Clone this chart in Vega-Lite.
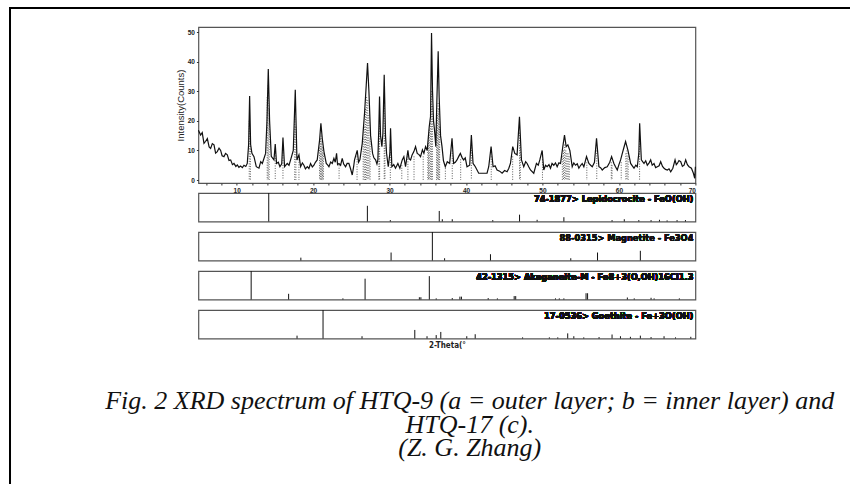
{
  "$schema": "https://vega.github.io/schema/vega-lite/v6.json",
  "background": "white",
  "padding": {"left": 6, "top": 4, "right": 0, "bottom": 0},
  "bounds": "flush",
  "spacing": 0,
  "config": {
    "view": {"stroke": "#555", "strokeWidth": 1.2},
    "font": "Liberation Sans"
  },
  "datasets": {
    "spectrum": [
      {"theta": 5.0, "counts": 16.8}, {"theta": 5.29, "counts": 15.2}, {"theta": 5.5, "counts": 16.0}, {"theta": 5.73, "counts": 12.4}, {"theta": 5.95, "counts": 13.1},
      {"theta": 6.17, "counts": 14.0}, {"theta": 6.4, "counts": 11.2}, {"theta": 6.6, "counts": 10.7}, {"theta": 6.82, "counts": 12.3}, {"theta": 7.04, "counts": 11.9},
      {"theta": 7.25, "counts": 9.1}, {"theta": 7.47, "counts": 9.6}, {"theta": 7.7, "counts": 10.8}, {"theta": 7.91, "counts": 10.0}, {"theta": 8.1, "counts": 8.2},
      {"theta": 8.34, "counts": 7.9}, {"theta": 8.55, "counts": 9.0}, {"theta": 8.78, "counts": 8.5}, {"theta": 9.0, "counts": 6.6}, {"theta": 9.22, "counts": 6.8},
      {"theta": 9.45, "counts": 5.2}, {"theta": 9.65, "counts": 5.6}, {"theta": 9.9, "counts": 4.6}, {"theta": 10.09, "counts": 5.1}, {"theta": 10.3, "counts": 4.3},
      {"theta": 10.52, "counts": 4.7}, {"theta": 10.75, "counts": 4.2}, {"theta": 10.96, "counts": 5.0}, {"theta": 11.2, "counts": 4.6}, {"theta": 11.39, "counts": 5.6},
      {"theta": 11.57, "counts": 12.0}, {"theta": 11.7, "counts": 28.4}, {"theta": 11.83, "counts": 12.0}, {"theta": 12.0, "counts": 9.0}, {"theta": 12.27, "counts": 7.9},
      {"theta": 12.57, "counts": 4.5}, {"theta": 12.92, "counts": 4.0}, {"theta": 13.15, "counts": 6.2}, {"theta": 13.36, "counts": 5.6}, {"theta": 13.79, "counts": 9.0},
      {"theta": 13.97, "counts": 20.0}, {"theta": 14.14, "counts": 37.5}, {"theta": 14.31, "counts": 20.0}, {"theta": 14.53, "counts": 8.0}, {"theta": 14.88, "counts": 6.8},
      {"theta": 15.05, "counts": 12.2}, {"theta": 15.22, "counts": 5.6}, {"theta": 15.45, "counts": 6.0}, {"theta": 15.66, "counts": 4.5}, {"theta": 15.9, "counts": 5.5},
      {"theta": 16.06, "counts": 14.4}, {"theta": 16.27, "counts": 4.5}, {"theta": 16.62, "counts": 5.6}, {"theta": 16.85, "counts": 5.0}, {"theta": 17.06, "counts": 6.8},
      {"theta": 17.41, "counts": 10.0}, {"theta": 17.67, "counts": 30.5}, {"theta": 17.89, "counts": 6.8}, {"theta": 18.15, "counts": 8.5}, {"theta": 18.37, "counts": 4.5},
      {"theta": 18.6, "counts": 5.8}, {"theta": 18.8, "counts": 5.0}, {"theta": 19.0, "counts": 3.8}, {"theta": 19.24, "counts": 4.5}, {"theta": 19.45, "counts": 3.9},
      {"theta": 19.67, "counts": 5.6}, {"theta": 19.9, "counts": 4.4}, {"theta": 20.11, "counts": 5.0}, {"theta": 20.3, "counts": 6.0}, {"theta": 20.54, "counts": 6.8},
      {"theta": 20.85, "counts": 13.5}, {"theta": 21.02, "counts": 19.2}, {"theta": 21.2, "counts": 14.0}, {"theta": 21.42, "counts": 9.6}, {"theta": 21.72, "counts": 5.6},
      {"theta": 21.9, "counts": 5.1}, {"theta": 22.07, "counts": 4.5}, {"theta": 22.3, "counts": 6.1}, {"theta": 22.51, "counts": 5.6}, {"theta": 22.72, "counts": 7.3},
      {"theta": 22.9, "counts": 6.0}, {"theta": 23.07, "counts": 9.0}, {"theta": 23.2, "counts": 5.2}, {"theta": 23.38, "counts": 5.6}, {"theta": 23.6, "counts": 5.0},
      {"theta": 23.81, "counts": 7.3}, {"theta": 24.0, "counts": 5.4}, {"theta": 24.25, "counts": 4.5}, {"theta": 24.45, "counts": 5.6}, {"theta": 24.68, "counts": 5.6},
      {"theta": 24.9, "counts": 3.8}, {"theta": 25.12, "counts": 1.7}, {"theta": 25.3, "counts": 4.5}, {"theta": 25.42, "counts": 6.8}, {"theta": 25.77, "counts": 10.0},
      {"theta": 25.95, "counts": 6.0}, {"theta": 26.12, "counts": 6.8}, {"theta": 26.43, "counts": 12.4}, {"theta": 26.73, "counts": 22.6}, {"theta": 26.95, "counts": 32.0},
      {"theta": 27.12, "counts": 39.5}, {"theta": 27.3, "counts": 30.0}, {"theta": 27.52, "counts": 15.0}, {"theta": 27.78, "counts": 9.0}, {"theta": 27.95, "counts": 7.5},
      {"theta": 28.17, "counts": 6.8}, {"theta": 28.35, "counts": 5.4}, {"theta": 28.47, "counts": 6.8}, {"theta": 28.6, "counts": 18.0}, {"theta": 28.69, "counts": 28.2},
      {"theta": 28.82, "counts": 15.0}, {"theta": 29.0, "counts": 11.3}, {"theta": 29.13, "counts": 15.8}, {"theta": 29.3, "counts": 35.6}, {"theta": 29.47, "counts": 15.0},
      {"theta": 29.61, "counts": 9.0}, {"theta": 29.83, "counts": 4.5}, {"theta": 30.04, "counts": 9.0}, {"theta": 30.13, "counts": 17.5}, {"theta": 30.3, "counts": 4.5},
      {"theta": 30.55, "counts": 5.2}, {"theta": 30.78, "counts": 4.0}, {"theta": 31.09, "counts": 5.6}, {"theta": 31.35, "counts": 4.0}, {"theta": 31.66, "counts": 6.8},
      {"theta": 31.87, "counts": 7.9}, {"theta": 32.09, "counts": 4.5}, {"theta": 32.4, "counts": 10.0}, {"theta": 32.55, "counts": 7.2}, {"theta": 32.75, "counts": 6.8},
      {"theta": 32.95, "counts": 8.5}, {"theta": 33.18, "counts": 9.6}, {"theta": 33.4, "counts": 11.3}, {"theta": 33.62, "counts": 9.0}, {"theta": 33.85, "counts": 8.6},
      {"theta": 34.05, "counts": 7.9}, {"theta": 34.3, "counts": 10.2}, {"theta": 34.49, "counts": 9.0}, {"theta": 34.71, "counts": 11.3}, {"theta": 34.92, "counts": 10.0},
      {"theta": 35.19, "counts": 18.0}, {"theta": 35.36, "counts": 21.4}, {"theta": 35.49, "counts": 49.7}, {"theta": 35.62, "counts": 30.0}, {"theta": 35.75, "counts": 20.0},
      {"theta": 35.88, "counts": 16.9}, {"theta": 36.05, "counts": 11.3}, {"theta": 36.18, "counts": 26.0}, {"theta": 36.36, "counts": 43.5}, {"theta": 36.49, "counts": 28.0},
      {"theta": 36.67, "counts": 15.0}, {"theta": 36.86, "counts": 11.3}, {"theta": 37.05, "counts": 6.5}, {"theta": 37.29, "counts": 4.5}, {"theta": 37.55, "counts": 6.2},
      {"theta": 37.86, "counts": 5.6}, {"theta": 38.17, "counts": 14.1}, {"theta": 38.38, "counts": 5.6}, {"theta": 38.6, "counts": 6.0}, {"theta": 38.82, "counts": 6.8},
      {"theta": 39.05, "counts": 8.0}, {"theta": 39.26, "counts": 9.0}, {"theta": 39.5, "counts": 7.5}, {"theta": 39.69, "counts": 6.8}, {"theta": 39.9, "counts": 7.5},
      {"theta": 40.13, "counts": 4.5}, {"theta": 40.48, "counts": 5.0}, {"theta": 40.7, "counts": 15.2}, {"theta": 40.92, "counts": 5.6}, {"theta": 41.22, "counts": 4.5},
      {"theta": 41.66, "counts": 2.3}, {"theta": 42.0, "counts": 2.3}, {"theta": 42.31, "counts": 2.3}, {"theta": 42.75, "counts": 2.3}, {"theta": 42.97, "counts": 4.5},
      {"theta": 43.28, "counts": 11.3}, {"theta": 43.54, "counts": 4.5}, {"theta": 43.8, "counts": 4.8}, {"theta": 44.06, "counts": 3.4}, {"theta": 44.4, "counts": 3.0},
      {"theta": 44.72, "counts": 2.3}, {"theta": 45.05, "counts": 3.2}, {"theta": 45.37, "counts": 2.8}, {"theta": 45.6, "counts": 4.0}, {"theta": 45.81, "counts": 5.6},
      {"theta": 46.11, "counts": 11.3}, {"theta": 46.38, "counts": 9.0}, {"theta": 46.68, "counts": 8.5}, {"theta": 46.99, "counts": 21.4}, {"theta": 47.25, "counts": 6.8},
      {"theta": 47.55, "counts": 4.5}, {"theta": 47.8, "counts": 6.2}, {"theta": 47.99, "counts": 5.6}, {"theta": 48.2, "counts": 4.5}, {"theta": 48.43, "counts": 3.4},
      {"theta": 48.86, "counts": 2.3}, {"theta": 49.21, "counts": 5.6}, {"theta": 49.45, "counts": 5.0}, {"theta": 49.65, "counts": 6.8}, {"theta": 49.96, "counts": 10.0},
      {"theta": 50.17, "counts": 3.4}, {"theta": 50.4, "counts": 5.0}, {"theta": 50.61, "counts": 4.5}, {"theta": 50.85, "counts": 5.2}, {"theta": 51.05, "counts": 4.0},
      {"theta": 51.25, "counts": 5.6}, {"theta": 51.48, "counts": 5.0}, {"theta": 51.7, "counts": 5.8}, {"theta": 51.92, "counts": 4.5}, {"theta": 52.15, "counts": 5.8},
      {"theta": 52.36, "counts": 5.6}, {"theta": 52.66, "counts": 11.3}, {"theta": 52.88, "counts": 15.2}, {"theta": 53.1, "counts": 11.3}, {"theta": 53.32, "counts": 11.9},
      {"theta": 53.58, "counts": 10.0}, {"theta": 53.89, "counts": 4.5}, {"theta": 54.1, "counts": 5.8}, {"theta": 54.32, "counts": 5.0}, {"theta": 54.55, "counts": 5.5},
      {"theta": 54.76, "counts": 4.0}, {"theta": 55.0, "counts": 5.0}, {"theta": 55.2, "counts": 5.6}, {"theta": 55.41, "counts": 4.5}, {"theta": 55.76, "counts": 7.9},
      {"theta": 56.07, "counts": 5.6}, {"theta": 56.3, "counts": 5.0}, {"theta": 56.51, "counts": 4.5}, {"theta": 56.8, "counts": 6.0}, {"theta": 57.07, "counts": 14.1},
      {"theta": 57.38, "counts": 4.5}, {"theta": 57.6, "counts": 4.2}, {"theta": 57.82, "counts": 3.4}, {"theta": 58.15, "counts": 4.2}, {"theta": 58.47, "counts": 4.5},
      {"theta": 58.8, "counts": 6.0}, {"theta": 59.04, "counts": 7.9}, {"theta": 59.34, "counts": 5.6}, {"theta": 59.55, "counts": 4.5}, {"theta": 59.78, "counts": 3.4},
      {"theta": 60.0, "counts": 5.2}, {"theta": 60.22, "counts": 6.8}, {"theta": 60.44, "counts": 9.0}, {"theta": 60.65, "counts": 11.0}, {"theta": 60.87, "counts": 13.0},
      {"theta": 61.18, "counts": 10.0}, {"theta": 61.53, "counts": 5.6}, {"theta": 61.75, "counts": 4.8}, {"theta": 61.97, "counts": 4.0}, {"theta": 62.2, "counts": 5.0},
      {"theta": 62.4, "counts": 4.5}, {"theta": 62.6, "counts": 9.0}, {"theta": 62.71, "counts": 19.2}, {"theta": 62.93, "counts": 6.8}, {"theta": 63.1, "counts": 6.2},
      {"theta": 63.28, "counts": 5.6}, {"theta": 63.5, "counts": 6.5}, {"theta": 63.71, "counts": 5.0}, {"theta": 63.95, "counts": 5.8}, {"theta": 64.15, "counts": 6.8},
      {"theta": 64.35, "counts": 5.0}, {"theta": 64.59, "counts": 5.6}, {"theta": 64.8, "counts": 4.2}, {"theta": 65.02, "counts": 4.5}, {"theta": 65.25, "counts": 4.8},
      {"theta": 65.46, "counts": 6.2}, {"theta": 65.7, "counts": 4.6}, {"theta": 65.9, "counts": 4.0}, {"theta": 66.1, "counts": 3.6}, {"theta": 66.33, "counts": 3.4},
      {"theta": 66.55, "counts": 3.8}, {"theta": 66.77, "counts": 2.8}, {"theta": 67.05, "counts": 4.0}, {"theta": 67.34, "counts": 6.8}, {"theta": 67.5, "counts": 5.2},
      {"theta": 67.64, "counts": 5.6}, {"theta": 67.85, "counts": 6.6}, {"theta": 68.08, "counts": 6.2}, {"theta": 68.3, "counts": 4.6}, {"theta": 68.52, "counts": 5.0},
      {"theta": 68.73, "counts": 6.8}, {"theta": 68.95, "counts": 5.2}, {"theta": 69.17, "counts": 4.5}, {"theta": 69.48, "counts": 4.0}, {"theta": 69.74, "counts": 2.3},
      {"theta": 69.91, "counts": 0.6}, {"theta": 70.0, "counts": 4.5}
    ],
    "markers": [
      {"theta": 11.65, "counts": 20}, {"theta": 11.8, "counts": 14}, {"theta": 14.0, "counts": 28}, {"theta": 14.12, "counts": 32}, {"theta": 14.25, "counts": 24},
      {"theta": 15.05, "counts": 10}, {"theta": 16.06, "counts": 11}, {"theta": 17.6, "counts": 24}, {"theta": 17.75, "counts": 18}, {"theta": 18.15, "counts": 7},
      {"theta": 20.85, "counts": 11}, {"theta": 20.95, "counts": 14}, {"theta": 21.05, "counts": 15}, {"theta": 21.15, "counts": 13}, {"theta": 21.25, "counts": 11},
      {"theta": 21.35, "counts": 9}, {"theta": 23.4, "counts": 5}, {"theta": 25.75, "counts": 8}, {"theta": 26.55, "counts": 14}, {"theta": 26.7, "counts": 18},
      {"theta": 26.85, "counts": 24}, {"theta": 27.0, "counts": 28}, {"theta": 27.15, "counts": 27}, {"theta": 27.3, "counts": 22}, {"theta": 27.45, "counts": 14},
      {"theta": 28.6, "counts": 14}, {"theta": 28.7, "counts": 20}, {"theta": 29.3, "counts": 26}, {"theta": 29.4, "counts": 16}, {"theta": 30.1, "counts": 12},
      {"theta": 31.6, "counts": 5}, {"theta": 32.4, "counts": 8}, {"theta": 33.2, "counts": 8}, {"theta": 34.4, "counts": 8}, {"theta": 35.0, "counts": 12},
      {"theta": 35.1, "counts": 15}, {"theta": 35.2, "counts": 17}, {"theta": 35.35, "counts": 20}, {"theta": 35.5, "counts": 30}, {"theta": 35.6, "counts": 25},
      {"theta": 36.15, "counts": 18}, {"theta": 36.25, "counts": 22}, {"theta": 36.35, "counts": 26}, {"theta": 36.45, "counts": 24}, {"theta": 36.55, "counts": 18},
      {"theta": 37.3, "counts": 4}, {"theta": 38.2, "counts": 10}, {"theta": 39.3, "counts": 7}, {"theta": 40.7, "counts": 11}, {"theta": 43.3, "counts": 8},
      {"theta": 46.1, "counts": 8}, {"theta": 47.0, "counts": 16}, {"theta": 47.1, "counts": 12}, {"theta": 50.0, "counts": 7}, {"theta": 52.6, "counts": 8},
      {"theta": 52.75, "counts": 10}, {"theta": 52.9, "counts": 12}, {"theta": 53.05, "counts": 10}, {"theta": 53.2, "counts": 9}, {"theta": 53.35, "counts": 9},
      {"theta": 53.5, "counts": 8}, {"theta": 55.8, "counts": 6}, {"theta": 57.1, "counts": 10}, {"theta": 59.0, "counts": 6}, {"theta": 59.1, "counts": 5},
      {"theta": 60.3, "counts": 6}, {"theta": 60.9, "counts": 9}, {"theta": 61.05, "counts": 10}, {"theta": 61.2, "counts": 8}, {"theta": 62.7, "counts": 14}
    ],
    "lepido": [
      {"theta": 14.2, "rel": 100}, {"theta": 27.1, "rel": 55}, {"theta": 30.1, "rel": 5}, {"theta": 36.5, "rel": 37}, {"theta": 36.9, "rel": 8},
      {"theta": 38.2, "rel": 8}, {"theta": 43.5, "rel": 5}, {"theta": 47.0, "rel": 24}, {"theta": 49.3, "rel": 6}, {"theta": 52.8, "rel": 15},
      {"theta": 59.1, "rel": 5}, {"theta": 60.7, "rel": 8}, {"theta": 62.6, "rel": 5}, {"theta": 64.2, "rel": 5}, {"theta": 65.3, "rel": 6},
      {"theta": 66.3, "rel": 4}, {"theta": 67.6, "rel": 5}, {"theta": 68.7, "rel": 5}
    ],
    "magnet": [
      {"theta": 18.4, "rel": 10}, {"theta": 30.2, "rel": 28}, {"theta": 35.6, "rel": 100}, {"theta": 37.2, "rel": 8}, {"theta": 43.2, "rel": 22},
      {"theta": 53.7, "rel": 8}, {"theta": 57.2, "rel": 28}, {"theta": 62.8, "rel": 34}
    ],
    "akag": [
      {"theta": 11.9, "rel": 100}, {"theta": 16.8, "rel": 20}, {"theta": 23.9, "rel": 4}, {"theta": 26.8, "rel": 73}, {"theta": 33.9, "rel": 8},
      {"theta": 34.1, "rel": 8}, {"theta": 35.2, "rel": 82}, {"theta": 36.1, "rel": 4}, {"theta": 38.2, "rel": 5}, {"theta": 39.2, "rel": 10},
      {"theta": 39.4, "rel": 10}, {"theta": 42.9, "rel": 5}, {"theta": 44.1, "rel": 4}, {"theta": 46.3, "rel": 12}, {"theta": 46.5, "rel": 12},
      {"theta": 51.7, "rel": 4}, {"theta": 52.2, "rel": 4}, {"theta": 52.8, "rel": 4}, {"theta": 55.7, "rel": 22}, {"theta": 55.9, "rel": 22},
      {"theta": 61.1, "rel": 7}, {"theta": 62.0, "rel": 4}, {"theta": 64.2, "rel": 6}, {"theta": 64.6, "rel": 4}, {"theta": 67.9, "rel": 4}
    ],
    "goeth": [
      {"theta": 17.9, "rel": 10}, {"theta": 21.3, "rel": 100}, {"theta": 26.4, "rel": 8}, {"theta": 33.3, "rel": 30}, {"theta": 34.9, "rel": 8},
      {"theta": 36.1, "rel": 12}, {"theta": 36.7, "rel": 23}, {"theta": 40.1, "rel": 8}, {"theta": 41.2, "rel": 15}, {"theta": 47.4, "rel": 4},
      {"theta": 50.9, "rel": 4}, {"theta": 52.0, "rel": 4}, {"theta": 53.3, "rel": 18}, {"theta": 54.1, "rel": 8}, {"theta": 55.4, "rel": 4},
      {"theta": 57.4, "rel": 5}, {"theta": 59.1, "rel": 14}, {"theta": 60.2, "rel": 8}, {"theta": 61.5, "rel": 6}, {"theta": 62.8, "rel": 10},
      {"theta": 64.2, "rel": 5}, {"theta": 65.9, "rel": 8}, {"theta": 67.4, "rel": 4}, {"theta": 69.4, "rel": 6}
    ],
    "blank": [{"k": 1}]
  },
  "vconcat": [
    {
      "width": 842,
      "height": 0.01,
      "view": {"stroke": "#000", "strokeWidth": 2},
      "data": {"name": "blank"},
      "mark": {"type": "point", "opacity": 0}
    },
    {
      "bounds": "flush",
      "spacing": 187.4,
      "hconcat": [
        {
          "width": 0.01,
          "height": 478,
          "view": {"stroke": "#000", "strokeWidth": 2},
          "data": {"name": "blank"},
          "mark": {"type": "point", "opacity": 0}
        },
        {
          "bounds": "flush",
          "spacing": 10,
          "title": {
            "text": ["Fig. 2 XRD spectrum of HTQ-9 (a = outer layer; b = inner layer) and", "HTQ-17 (c).", "(Z. G. Zhang)"],
            "orient": "bottom",
            "anchor": "middle",
            "font": "Liberation Serif",
            "fontStyle": "italic",
            "fontWeight": "normal",
            "fontSize": 26,
            "lineHeight": 23.5,
            "color": "#111",
            "offset": 38,
            "dx": 33
          },
          "vconcat": [
            {
              "width": 497,
              "height": 8,
              "view": {"stroke": "transparent"},
              "data": {"name": "blank"},
              "mark": {"type": "point", "opacity": 0}
            },
            {
              "width": 497,
              "height": 156,
              "encoding": {
                "x": {
                  "field": "theta", "type": "quantitative",
                  "scale": {"domain": [5, 70], "nice": false, "zero": false},
                  "axis": {
                    "title": null,
                    "values": [6, 8, 10, 12, 14, 16, 18, 20, 22, 24, 26, 28, 30, 32, 34, 36, 38, 40, 42, 44, 46, 48, 50, 52, 54, 56, 58, 60, 62, 64, 66, 68, 70],
                    "labelExpr": "datum.value % 10 == 0 ? datum.label : ''",
                    "labelOverlap": false,
                    "labelFontSize": 6.5, "labelFontWeight": "bold", "labelColor": "#222", "labelPadding": 2,
                    "tickSize": 2, "tickColor": "#333", "domain": false, "grid": false, "labelFont": "Liberation Sans"
                  }
                },
                "y": {
                  "field": "counts", "type": "quantitative",
                  "scale": {"domain": [-1, 51.7], "nice": false, "zero": false},
                  "axis": {
                    "title": "Intensity(Counts)",
                    "values": [0, 10, 20, 30, 40, 50],
                    "labelOverlap": false,
                    "labelFontSize": 6.5, "labelFontWeight": "bold", "labelColor": "#222", "labelPadding": 2,
                    "tickSize": 2, "tickColor": "#333", "domain": false, "grid": false, "labelFont": "Liberation Sans",
                    "titleFont": "Liberation Sans", "titleFontSize": 9.5, "titleFontWeight": "normal", "titleColor": "#222", "titlePadding": 1.5
                  }
                }
              },
              "layer": [
                {
                  "data": {"name": "markers"},
                  "mark": {"type": "rule", "color": "#333", "strokeWidth": 0.8, "strokeDash": [1, 1.5]},
                  "encoding": {"y2": {"datum": 0}}
                },
                {
                  "data": {"name": "spectrum"},
                  "mark": {"type": "line", "color": "#111", "strokeWidth": 1.2},
                  "encoding": {}
                }
              ]
            },
            {
              "width": 497,
              "height": 28.5,
              "data": {"name": "lepido"},
              "layer": [
                {
                  "mark": {"type": "rule", "color": "#111", "strokeWidth": 1},
                  "encoding": {
                    "x": {"field": "theta", "type": "quantitative", "scale": {"domain": [5, 70], "nice": false, "zero": false}, "axis": null},
                    "y": {"field": "rel", "type": "quantitative", "scale": {"domain": [0, 100], "nice": false}, "axis": null},
                    "y2": {"datum": 0}
                  }
                },
                {
                  "mark": {"type": "text", "align": "right", "baseline": "top", "dx": -2, "dy": 2, "fontSize": 9.2, "fontWeight": "bold", "font": "'DejaVu Sans Condensed', 'Liberation Sans'", "color": "#111", "text": "74-1877> Lepidocrocite - FeO(OH)"},
                  "encoding": {
                    "x": {"datum": 70, "type": "quantitative"},
                    "y": {"datum": 100, "type": "quantitative"}
                  }
                }
              ]
            },
            {
              "width": 497,
              "height": 28.5,
              "data": {"name": "magnet"},
              "layer": [
                {
                  "mark": {"type": "rule", "color": "#111", "strokeWidth": 1},
                  "encoding": {
                    "x": {"field": "theta", "type": "quantitative", "scale": {"domain": [5, 70], "nice": false, "zero": false}, "axis": null},
                    "y": {"field": "rel", "type": "quantitative", "scale": {"domain": [0, 100], "nice": false}, "axis": null},
                    "y2": {"datum": 0}
                  }
                },
                {
                  "mark": {"type": "text", "align": "right", "baseline": "top", "dx": -2, "dy": 2, "fontSize": 9.2, "fontWeight": "bold", "font": "'DejaVu Sans Condensed', 'Liberation Sans'", "color": "#111", "text": "88-0315> Magnetite - Fe3O4"},
                  "encoding": {
                    "x": {"datum": 70, "type": "quantitative"},
                    "y": {"datum": 100, "type": "quantitative"}
                  }
                }
              ]
            },
            {
              "width": 497,
              "height": 28.5,
              "data": {"name": "akag"},
              "layer": [
                {
                  "mark": {"type": "rule", "color": "#111", "strokeWidth": 1},
                  "encoding": {
                    "x": {"field": "theta", "type": "quantitative", "scale": {"domain": [5, 70], "nice": false, "zero": false}, "axis": null},
                    "y": {"field": "rel", "type": "quantitative", "scale": {"domain": [0, 100], "nice": false}, "axis": null},
                    "y2": {"datum": 0}
                  }
                },
                {
                  "mark": {"type": "text", "align": "right", "baseline": "top", "dx": -2, "dy": 2, "fontSize": 9.2, "fontWeight": "bold", "font": "'DejaVu Sans Condensed', 'Liberation Sans'", "color": "#111", "text": "42-1315> Akaganeite-M - Fe8+3(O,OH)16Cl1.3"},
                  "encoding": {
                    "x": {"datum": 70, "type": "quantitative"},
                    "y": {"datum": 100, "type": "quantitative"}
                  }
                }
              ]
            },
            {
              "width": 497,
              "height": 28.5,
              "data": {"name": "goeth"},
              "layer": [
                {
                  "mark": {"type": "rule", "color": "#111", "strokeWidth": 1},
                  "encoding": {
                    "x": {"field": "theta", "type": "quantitative", "scale": {"domain": [5, 70], "nice": false, "zero": false},
                      "axis": {"title": "2-Theta(°", "labels": false, "ticks": false, "domain": false, "grid": false, "titleFontSize": 8, "titleFontWeight": "bold", "titleFont": "'DejaVu Sans Condensed', 'Liberation Sans'", "titleColor": "#222", "titlePadding": 3}},
                    "y": {"field": "rel", "type": "quantitative", "scale": {"domain": [0, 100], "nice": false}, "axis": null},
                    "y2": {"datum": 0}
                  }
                },
                {
                  "mark": {"type": "text", "align": "right", "baseline": "top", "dx": -2, "dy": 2, "fontSize": 9.2, "fontWeight": "bold", "font": "'DejaVu Sans Condensed', 'Liberation Sans'", "color": "#111", "text": "17-0536> Goethite - Fe+3O(OH)"},
                  "encoding": {
                    "x": {"datum": 70, "type": "quantitative"},
                    "y": {"datum": 100, "type": "quantitative"}
                  }
                }
              ]
            }
          ]
        }
      ]
    }
  ]
}
